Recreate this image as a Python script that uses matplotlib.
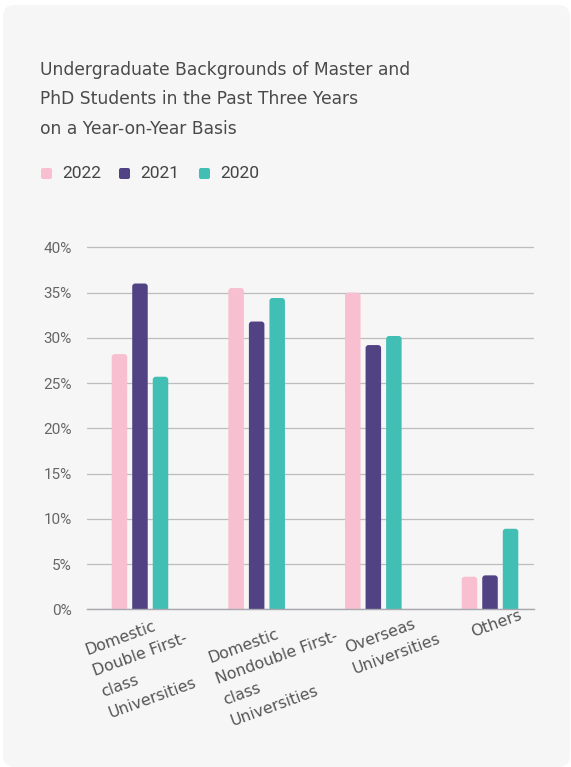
import numpy as np
import matplotlib.pyplot as plt
from matplotlib.patches import FancyBboxPatch

# данные: доли выпускников по типу вуза бакалавриата
categories = ['Domestic\nDouble First-\nclass\nUniversities',
              'Domestic\nNondouble First-\nclass\nUniversities',
              'Overseas\nUniversities',
              'Others']
years = ['2022', '2021', '2020']
share_2022 = [28.2, 35.5, 35.0, 3.6]
share_2021 = [36.0, 31.8, 29.2, 3.75]
share_2020 = [25.7, 34.4, 30.2, 8.9]
yticks = [0, 5, 10, 15, 20, 25, 30, 35, 40]

colors = ['#f7bfcf', '#514283', '#42bfb5']
series = [share_2022, share_2021, share_2020]

W, H = 571, 767
fig = plt.figure(figsize=(W / 100, H / 100), dpi=100)
fig.patch.set_facecolor('white')

# светлая карточка-подложка со скруглёнными углами
card = FancyBboxPatch((3 / W, 0 / H), (567 / W), (762 / H),
                      boxstyle='round,pad=0,rounding_size=%f' % (12 / W),
                      mutation_aspect=W / H,
                      transform=fig.transFigure, facecolor='#f6f6f6',
                      edgecolor='none', zorder=-5)
fig.patches.append(card)

# заголовок
title_lines = ['Undergraduate Backgrounds of Master and',
               'PhD Students in the Past Three Years',
               'on a Year-on-Year Basis']
for k, line in enumerate(title_lines):
    fig.text(40 / W, 1 - (75 + 29.3 * k) / H, line, fontsize=12.3,
             color='#4a4a4a', family='DejaVu Sans', va='baseline', ha='left')

# легенда
leg_sq = [41, 119, 199]
for k, yr in enumerate(years):
    sq = FancyBboxPatch((leg_sq[k] / W, 1 - 179 / H), 11 / W, 11 / H,
                        boxstyle='round,pad=0,rounding_size=%f' % (2 / W),
                        mutation_aspect=W / H, transform=fig.transFigure,
                        facecolor=colors[k], edgecolor='none')
    fig.patches.append(sq)
    fig.text((leg_sq[k] + 21) / W, 1 - 173 / H, yr, fontsize=12.5,
             color='#444444', family='Roboto', va='center', ha='left')

# оси
ax = fig.add_axes([87 / W, (H - 609.3) / H, 447 / W, 364.7 / H])
ax.set_zorder(2)
ax.set_facecolor('none')
ax.set_ylim(0, 40.3)
ax.set_xlim(-0.454, 3.377)

x = np.arange(len(categories))
bw = 0.133
step = 0.176
px_x = 116.7
px_y = 9.05
r = 3.0 / px_x
for k, vals in enumerate(series):
    bars = ax.bar(x + (k - 1) * step, vals, width=bw, color=colors[k],
                  zorder=3)
    # закругляем верх столбцов
    for b in bars:
        b.set_visible(False)
        fb = FancyBboxPatch((b.get_x(), -1.0), b.get_width(),
                            b.get_height() + 1.0,
                            boxstyle='round,pad=0,rounding_size=%f' % r,
                            mutation_aspect=px_x / px_y,
                            facecolor=colors[k], edgecolor='none', zorder=3)
        ax.add_patch(fb)

ax.set_yticks(yticks)
ax.set_yticklabels(['%d%%' % v for v in yticks], family='Roboto',
                   fontsize=11, color='#666666')
ax.tick_params(axis='y', length=0, pad=11)
ax.set_xticks([])
ax.yaxis.grid(True, color='#bdbdbd', linewidth=0.9)
ax.set_axisbelow(True)
for s in ['top', 'right', 'left']:
    ax.spines[s].set_visible(False)
ax.spines['bottom'].set_color('#a8a8b0')
ax.spines['bottom'].set_linewidth(1.0)
ax.spines['bottom'].set_zorder(4)

# подписи категорий, повёрнутые на 20 градусов
label_offsets = [(-56.4, -34.4), (-50.7, -42.7), (-30.6, -32.1), (-21.4, -16.1)]
for i, lab in enumerate(categories):
    ax.annotate(lab, xy=(x[i], 0), xycoords=('data', 'axes fraction'),
                xytext=label_offsets[i], textcoords='offset pixels',
                rotation=20, rotation_mode='anchor', ha='left', va='top',
                fontsize=11.3, color='#555555', family='DejaVu Sans',
                linespacing=1.6, annotation_clip=False)

fig.savefig('out.png', dpi=100, facecolor='white')
